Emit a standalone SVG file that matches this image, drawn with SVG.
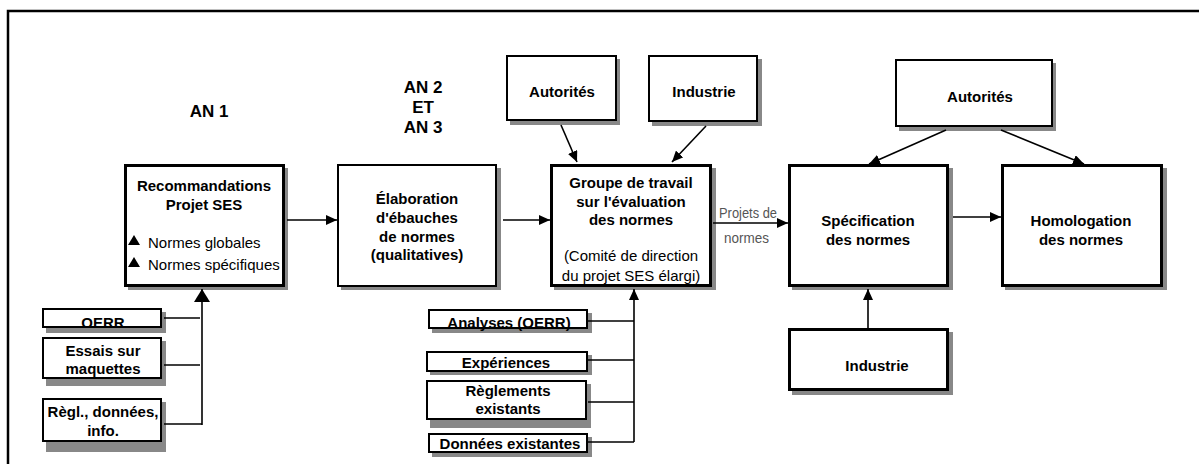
<svg xmlns="http://www.w3.org/2000/svg" width="1199" height="464" viewBox="0 0 1199 464">
<style>
.sh{fill:#888}
.b2{fill:#fff;stroke:#000;stroke-width:2}
.b3{fill:#fff;stroke:#000;stroke-width:3}
text{font-family:"Liberation Sans",Arial,sans-serif;fill:#000}
.t{font-size:15px;font-weight:bold;text-anchor:middle}
.r{font-size:15px;text-anchor:middle}
.an{font-size:17px;font-weight:bold;text-anchor:middle}
.g{font-size:15px;fill:#555}
.c line,.c path{stroke:#000;stroke-width:1.6;fill:none}
</style>
<defs>
<marker id="ah" markerUnits="userSpaceOnUse" markerWidth="12" markerHeight="10" refX="11" refY="5" orient="auto">
<path d="M0,0 L11,5 L0,10 z" fill="#000"/>
</marker>
<marker id="ahb" markerUnits="userSpaceOnUse" markerWidth="14" markerHeight="16" refX="13" refY="8" orient="auto">
<path d="M0,0 L13,8 L0,16 z" fill="#000"/>
</marker>
</defs>
<rect width="1199" height="464" fill="#fff"/>
<path d="M8,464 V11 H1199" fill="none" stroke="#000" stroke-width="2.5"/>

<text class="an" x="209" y="117">AN 1</text>
<text class="an" x="423" y="93">AN 2</text>
<text class="an" x="423" y="113">ET</text>
<text class="an" x="423" y="133">AN 3</text>

<g id="recommandations">
<rect class="sh" x="128" y="168" width="160" height="122"/>
<rect class="b3" x="125.5" y="165.5" width="158" height="120"/>
<text class="t" x="204" y="191">Recommandations</text>
<text class="t" x="204" y="210">Projet SES</text>
<polygon points="128,245 134,235 140,245" fill="#000"/>
<polygon points="128,267 134,257 140,267" fill="#000"/>
<text x="148" y="248" font-size="15">Normes globales</text>
<text x="148" y="270" font-size="15">Normes spécifiques</text>
</g>

<g id="elaboration">
<rect class="sh" x="341" y="168" width="160" height="122"/>
<rect class="b2" x="338" y="165" width="158" height="121"/>
<text class="t" x="417" y="204">Élaboration</text>
<text class="t" x="417" y="223">d'ébauches</text>
<text class="t" x="417" y="242">de normes</text>
<text class="t" x="417" y="260">(qualitatives)</text>
</g>

<g id="groupe">
<rect class="sh" x="554" y="168" width="162" height="122"/>
<rect class="b3" x="551.5" y="165.5" width="159" height="120"/>
<text class="t" x="631" y="188">Groupe de travail</text>
<text class="t" x="631" y="207">sur l'évaluation</text>
<text class="t" x="631" y="225">des normes</text>
<text class="r" x="631" y="261">(Comité de direction</text>
<text class="r" x="631" y="281">du projet SES élargi)</text>
</g>

<g id="autorites1">
<rect class="sh" x="510" y="59" width="110" height="66"/>
<rect class="b2" x="507" y="56" width="109" height="64"/>
<text class="t" x="562" y="97">Autorités</text>
</g>

<g id="industrie1">
<rect class="sh" x="652" y="59" width="110" height="67"/>
<rect class="b2" x="649" y="56" width="108" height="65"/>
<text class="t" x="704" y="97">Industrie</text>
</g>

<g id="specification">
<rect class="sh" x="792" y="168" width="161" height="122"/>
<rect class="b3" x="789.5" y="165.5" width="158" height="120"/>
<text class="t" x="868" y="226">Spécification</text>
<text class="t" x="868" y="245">des normes</text>
</g>

<g id="homologation">
<rect class="sh" x="1005" y="168" width="162" height="122"/>
<rect class="b3" x="1002.5" y="165.5" width="159" height="120"/>
<text class="t" x="1081" y="226">Homologation</text>
<text class="t" x="1081" y="245">des normes</text>
</g>

<g id="autorites2">
<rect class="sh" x="899" y="63" width="157" height="68"/>
<rect class="b2" x="896" y="60" width="156" height="66"/>
<text class="t" x="980" y="102">Autorités</text>
</g>

<g id="industrie2">
<rect class="sh" x="792" y="332" width="161" height="63"/>
<rect class="b3" x="789.5" y="329.5" width="158" height="60"/>
<text class="t" x="877" y="371">Industrie</text>
</g>

<g id="oerr">
<rect class="sh" x="46" y="312" width="120" height="21"/>
<rect class="b2" x="43" y="309" width="118" height="18"/>
<text class="t" x="103" y="328">OERR</text>
</g>

<g id="essais">
<rect class="sh" x="46" y="341" width="120" height="45"/>
<rect class="b2" x="43" y="338" width="118" height="40"/>
<text class="t" x="103" y="356">Essais sur</text>
<text class="t" x="103" y="374">maquettes</text>
</g>

<g id="regl">
<rect class="sh" x="46" y="402" width="120" height="50"/>
<rect class="b2" x="43" y="399" width="118" height="42"/>
<text class="t" x="103" y="417">Règl., données,</text>
<text class="t" x="103" y="436">info.</text>
</g>

<g id="analyses">
<rect class="sh" x="432" y="313" width="160" height="20"/>
<rect class="b2" x="429" y="310" width="158" height="18"/>
<text class="t" x="509" y="328">Analyses (OERR)</text>
</g>

<g id="experiences">
<rect class="sh" x="430" y="355" width="162" height="20"/>
<rect class="b2" x="427" y="352" width="160" height="19"/>
<text class="t" x="506" y="368">Expériences</text>
</g>

<g id="reglements">
<rect class="sh" x="430" y="384" width="161" height="44"/>
<rect class="b2" x="427" y="381" width="159" height="38"/>
<text class="t" x="508" y="396">Règlements</text>
<text class="t" x="508" y="414">existants</text>
</g>

<g id="donnees">
<rect class="sh" x="432" y="437" width="160" height="20"/>
<rect class="b2" x="429" y="434" width="158" height="18"/>
<text class="t" x="510" y="449">Données existantes</text>
</g>

<g id="connectors" class="c">
<line x1="287" y1="220" x2="337" y2="220" marker-end="url(#ah)"/>
<line x1="503" y1="220" x2="550" y2="220" marker-end="url(#ah)"/>
<line x1="713" y1="223" x2="788" y2="223" marker-end="url(#ah)"/>
<line x1="953" y1="217" x2="1001" y2="217" marker-end="url(#ah)"/>
<line x1="561" y1="125" x2="577" y2="162" marker-end="url(#ah)"/>
<line x1="706" y1="126" x2="672" y2="162" marker-end="url(#ah)"/>
<line x1="946" y1="130" x2="869" y2="164" marker-end="url(#ah)"/>
<line x1="1001" y1="130" x2="1084" y2="164" marker-end="url(#ah)"/>
<line x1="868" y1="328" x2="868" y2="289" marker-end="url(#ah)"/>
<line x1="202" y1="425" x2="202" y2="289" marker-end="url(#ahb)"/>
<line x1="164" y1="318" x2="200" y2="318"/>
<line x1="164" y1="365" x2="200" y2="365"/>
<line x1="164" y1="424" x2="202" y2="424"/>
<line x1="634" y1="442" x2="634" y2="289" marker-end="url(#ah)"/>
<line x1="588" y1="321" x2="634" y2="321"/>
<line x1="588" y1="360" x2="634" y2="360"/>
<line x1="588" y1="402" x2="634" y2="402"/>
<line x1="588" y1="442" x2="634" y2="442"/>
<text class="g" x="719" y="218" textLength="58" lengthAdjust="spacingAndGlyphs">Projets de</text>
<text class="g" x="724" y="243" textLength="45" lengthAdjust="spacingAndGlyphs">normes</text>
</g>
</svg>
